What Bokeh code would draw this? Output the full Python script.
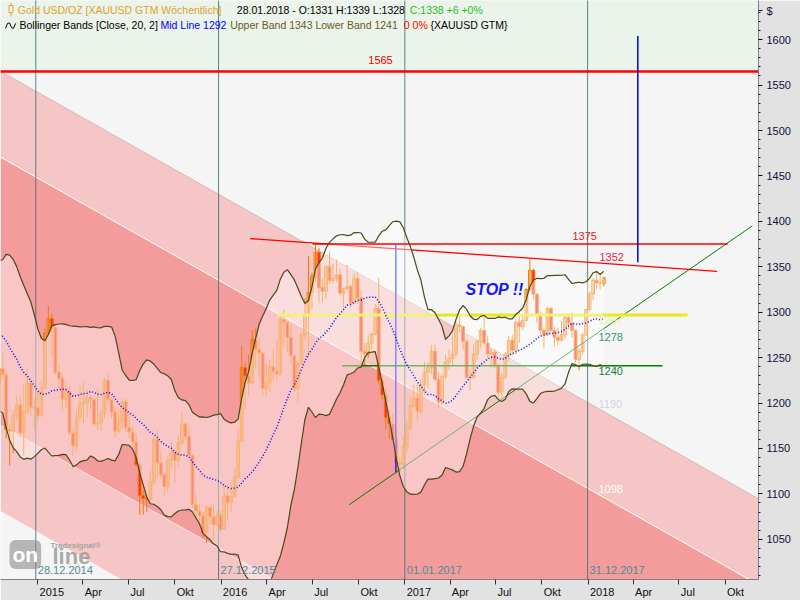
import numpy as np
import pandas as pd
from bokeh.plotting import figure
from bokeh.models import Range1d, LinearAxis, FixedTicker, Label, ColumnDataSource
from bokeh.embed import file_html
from bokeh.resources import INLINE

# ------------------------------------------------------------------ data
# weekly closes before the first drawn candle (only used for Bollinger warm-up)
warmup_closes = [1252, 1274, 1316, 1316, 1320, 1337, 1310, 1303, 1294, 1310,
                 1305, 1280, 1287, 1268, 1231, 1216, 1218, 1192]

# weekly candles, weeks starting on Sunday 05.10.2014 ... 28.01.2018
first_week = "2014-10-05"
opens = [
    1192, 1222, 1238, 1231, 1171, 1169, 1186, 1198, 1167, 1191, 1222, 1195, 1195,
    1186, 1216, 1277, 1293, 1283, 1234, 1227, 1204, 1213, 1167, 1153, 1184, 1199,
    1201, 1206, 1204, 1177, 1178, 1189, 1225, 1204, 1190, 1169, 1180, 1201, 1173,
    1168, 1157, 1132, 1098, 1095, 1094, 1113, 1160, 1134, 1121, 1108, 1137, 1146,
    1137, 1156, 1177, 1163, 1142, 1088, 1081, 1076, 1057, 1085, 1075, 1066, 1076,
    1061, 1098, 1090, 1097, 1118, 1158, 1239, 1230, 1222, 1270, 1259, 1255, 1216,
    1222, 1240, 1235, 1232, 1292, 1289, 1272, 1252, 1216, 1243, 1275, 1298, 1322,
    1339, 1366, 1327, 1323, 1350, 1335, 1337, 1341, 1321, 1326, 1328, 1310, 1337,
    1316, 1257, 1254, 1266, 1276, 1304, 1225, 1209, 1184, 1177, 1160, 1134, 1133,
    1152, 1173, 1197, 1205, 1191, 1220, 1234, 1239, 1257, 1226, 1201, 1229, 1245,
    1249, 1254, 1286, 1284, 1268, 1228, 1228, 1254, 1268, 1280, 1266, 1254, 1256,
    1242, 1212, 1228, 1254, 1269, 1258, 1289, 1284, 1291, 1325, 1346, 1320, 1297,
    1280, 1275, 1304, 1280, 1272, 1269, 1275, 1294, 1288, 1280, 1248, 1257, 1275,
    1303, 1320, 1335, 1332, 1331]
highs = [
    1227, 1249, 1255, 1234, 1177, 1192, 1208, 1207, 1221, 1238, 1225, 1205, 1212,
    1224, 1282, 1307, 1298, 1287, 1243, 1232, 1223, 1219, 1172, 1191, 1219, 1224,
    1215, 1209, 1205, 1215, 1194, 1227, 1232, 1206, 1196, 1193, 1205, 1204, 1188,
    1174, 1166, 1135, 1104, 1099, 1126, 1162, 1170, 1147, 1124, 1141, 1157, 1148,
    1164, 1191, 1178, 1176, 1143, 1099, 1088, 1080, 1088, 1088, 1088, 1081, 1082,
    1112, 1110, 1112, 1127, 1172, 1263, 1245, 1253, 1280, 1282, 1272, 1256, 1243,
    1248, 1259, 1271, 1297, 1303, 1289, 1287, 1253, 1245, 1278, 1315, 1362, 1343,
    1375, 1371, 1337, 1352, 1367, 1353, 1358, 1348, 1327, 1352, 1330, 1343, 1344,
    1324, 1266, 1275, 1277, 1309, 1338, 1232, 1217, 1193, 1188, 1172, 1140, 1163,
    1182, 1207, 1220, 1220, 1226, 1245, 1245, 1264, 1264, 1234, 1231, 1253, 1259,
    1274, 1290, 1296, 1285, 1270, 1237, 1264, 1270, 1283, 1296, 1274, 1260, 1259,
    1243, 1233, 1256, 1274, 1275, 1291, 1300, 1298, 1326, 1358, 1348, 1321, 1301,
    1282, 1306, 1306, 1284, 1283, 1290, 1297, 1297, 1300, 1280, 1260, 1277, 1303,
    1323, 1338, 1344, 1342, 1339]
lows = [
    1183, 1221, 1226, 1161, 1131, 1145, 1180, 1163, 1142, 1188, 1186, 1170, 1178,
    1185, 1215, 1276, 1250, 1231, 1216, 1193, 1195, 1164, 1142, 1147, 1180, 1178,
    1185, 1192, 1175, 1170, 1170, 1183, 1200, 1183, 1162, 1167, 1172, 1168, 1161,
    1147, 1130, 1077, 1077, 1080, 1090, 1110, 1118, 1117, 1098, 1103, 1127, 1112,
    1130, 1154, 1159, 1140, 1084, 1075, 1065, 1052, 1046, 1066, 1050, 1064, 1058,
    1061, 1072, 1080, 1097, 1118, 1157, 1193, 1207, 1220, 1238, 1228, 1208, 1207,
    1212, 1225, 1226, 1230, 1263, 1256, 1244, 1212, 1200, 1242, 1270, 1250, 1303,
    1333, 1310, 1311, 1315, 1331, 1332, 1333, 1318, 1303, 1324, 1306, 1308, 1309,
    1242, 1241, 1250, 1259, 1275, 1220, 1203, 1171, 1161, 1159, 1122, 1124, 1127,
    1146, 1171, 1195, 1180, 1188, 1209, 1216, 1232, 1224, 1195, 1198, 1226, 1237,
    1241, 1251, 1278, 1259, 1227, 1214, 1227, 1247, 1260, 1265, 1249, 1240, 1238,
    1206, 1204, 1227, 1246, 1252, 1254, 1266, 1280, 1290, 1323, 1314, 1289, 1275,
    1260, 1274, 1278, 1262, 1264, 1268, 1270, 1281, 1272, 1245, 1236, 1253, 1274,
    1301, 1313, 1326, 1325, 1328]
closes = [
    1222, 1238, 1231, 1171, 1169, 1186, 1198, 1167, 1191, 1222, 1195, 1195, 1186,
    1216, 1277, 1293, 1283, 1234, 1227, 1204, 1213, 1167, 1153, 1184, 1199, 1201,
    1206, 1204, 1177, 1178, 1189, 1225, 1204, 1190, 1169, 1180, 1201, 1173, 1168,
    1157, 1132, 1098, 1095, 1094, 1113, 1160, 1134, 1121, 1108, 1137, 1146, 1137,
    1156, 1177, 1163, 1142, 1088, 1081, 1076, 1057, 1085, 1075, 1066, 1076, 1061,
    1098, 1090, 1097, 1118, 1158, 1239, 1230, 1222, 1270, 1259, 1255, 1216, 1222,
    1240, 1235, 1232, 1292, 1289, 1272, 1252, 1216, 1243, 1275, 1298, 1322, 1339,
    1366, 1327, 1323, 1350, 1335, 1337, 1341, 1321, 1326, 1328, 1310, 1337, 1316,
    1257, 1254, 1266, 1276, 1304, 1225, 1209, 1184, 1177, 1160, 1134, 1133, 1152,
    1173, 1197, 1205, 1191, 1220, 1234, 1239, 1257, 1226, 1201, 1229, 1245, 1249,
    1254, 1286, 1284, 1268, 1228, 1228, 1254, 1268, 1280, 1266, 1254, 1256, 1242,
    1212, 1228, 1254, 1269, 1258, 1289, 1284, 1291, 1325, 1346, 1320, 1297, 1280,
    1275, 1304, 1280, 1272, 1269, 1275, 1294, 1288, 1280, 1248, 1257, 1275, 1303,
    1320, 1335, 1332, 1332, 1338]

bb_period = 20
bb_width = 2

# x axis
x_tick_dates = ["2015-01-01", "2015-04-01", "2015-07-01", "2015-10-01",
                "2016-01-01", "2016-04-01", "2016-07-01", "2016-10-01",
                "2017-01-01", "2017-04-01", "2017-07-01", "2017-10-01",
                "2018-01-01", "2018-04-01", "2018-07-01", "2018-10-01"]
x_tick_labels = ["2015", "Apr", "Jul", "Okt", "2016", "Apr", "Jul", "Okt",
                 "2017", "Apr", "Jul", "Okt", "2018", "Apr", "Jul", "Okt"]
# y axis
y_ticks = [1050, 1100, 1150, 1200, 1250, 1300, 1350, 1400, 1450, 1500, 1550, 1600]
y_minor_ticks = [v for v in range(1010, 1640, 10)]
y_unit_pos = 1632
y_unit_label = "$"

# year separators
year_line_dates = ["2014-12-28", "2015-12-27", "2017-01-01", "2017-12-31"]
year_line_labels = ["28.12.2014", "27.12.2015", "01.01.2017", "31.12.2017"]

# regression channel (start / end of the four channel lines)
channel_dates = ["2014-10-19", "2018-12-09"]
channel_l1 = [1565.1, 1093.7]
channel_l2 = [1470.6, 999.2]
channel_l3 = [1175.5, 704.1]
channel_l4 = [1081.0, 609.6]

# drawn levels / trend lines
top_level = 1565
res_1375_dates = ["2016-07-01", "2018-10-06"]
res_1375 = 1375
down_dates = ["2016-02-28", "2018-09-15"]
down_prices = [1381, 1345]
sup_1297_dates = ["2016-04-22", "2018-07-18"]
sup_1297 = 1297
sup_1241_dates = ["2016-08-29", "2018-05-29"]
sup_1241 = 1241
up_dates = ["2016-09-12", "2018-11-24"]
up_prices = [1088, 1395]
low_marker_date = "2016-12-14"
low_marker_prices = [1124, 1375]
target_date = "2018-04-10"
target_prices = [1355, 1604]

# ------------------------------------------------------------------ helpers
DAY = 86400000.0


def ms(d):
    return pd.Timestamp(d).value / 1e6


T2015 = ms("2015-01-01")
PX_PER_DAY = 0.5021      # reference horizontal scale
X2015_PX = 37.3          # page x of 01.01.2015
PX_PER_USD = 0.9115      # reference vertical scale
Y1600_PX = 39.3          # page y of 1600


def X(px):
    return T2015 + (px - X2015_PX) / PX_PER_DAY * DAY


def Y(py):
    return 1600 - (py - Y1600_PX) / PX_PER_USD


x_start, x_end = X(0), X(758)
y_top, y_bot = Y(0), Y(581)

FONT = "Liberation Sans"

p = figure(width=800, height=600, x_range=Range1d(x_start, x_end),
           y_range=Range1d(y_bot, y_top), output_backend="svg",
           toolbar_location=None, x_axis_type=None, y_axis_type=None,
           min_border_left=0, min_border_top=0, min_border_right=42,
           min_border_bottom=19, background_fill_color="#f5f5f5",
           border_fill_color="#e2e2e2", outline_line_color=None)

# green zone above the top level
p.varea(x=[x_start, x_end], y1=[top_level, top_level], y2=[y_top + 20, y_top + 20],
        fill_color="#eaf4ea")

# regression channel
cx = [ms(d) for d in channel_dates]
p.varea(x=cx, y1=channel_l2, y2=channel_l1, fill_color="#f6c5c5")
p.varea(x=cx, y1=channel_l3, y2=channel_l2, fill_color="#f49c9c")
p.varea(x=cx, y1=channel_l4, y2=channel_l3, fill_color="#f6c5c5")
p.line(cx, channel_l1, line_color="#d4b8b8", line_width=1)
p.line(cx, channel_l2, line_color="white", line_width=1)
p.line(cx, channel_l3, line_color="white", line_width=1, line_alpha=0.5)

# year separators
yl = [ms(d) for d in year_line_dates]
p.segment(x0=yl, y0=[y_bot - 10] * 4, x1=yl, y1=[y_top + 10] * 4,
          line_color="#3e6e6e", line_width=1, line_alpha=0.85)

# candles
weeks = pd.date_range(first_week, periods=len(closes), freq="7D")
cxs = np.array([ms(d) for d in weeks]) + 4 * DAY
o = np.array(opens, float)
h = np.array(highs, float)
lo = np.array(lows, float)
c = np.array(closes, float)
src = ColumnDataSource(dict(x=cxs, h=h, l=lo))
p.segment(x0="x", y0="l", x1="x", y1="h", source=src, line_color="#f07c00", line_width=1)
upm = c >= o
up_src = ColumnDataSource(dict(x=cxs[upm], top=np.maximum(o, c)[upm], bot=np.minimum(o, c)[upm]))
dn_src = ColumnDataSource(dict(x=cxs[~upm], top=np.maximum(o, c)[~upm], bot=np.minimum(o, c)[~upm]))
p.vbar(x="x", top="top", bottom="bot", width=5.5 * DAY, source=up_src,
       fill_color=None, line_color="#f07c00", line_width=1)
p.vbar(x="x", top="top", bottom="bot", width=5.5 * DAY, source=dn_src,
       fill_color="#ff2a2a", line_color="#f07c00", line_width=1)

# trend lines under the band shading
p.line([ms(d) for d in down_dates], down_prices, line_color="#ff0000", line_width=1.3)
p.line([ms(d) for d in up_dates], up_prices, line_color="#008000", line_width=1)
p.line([ms(d) for d in sup_1297_dates], [sup_1297, sup_1297], line_color="#e8e81c", line_width=3)
p.line([ms(d) for d in sup_1241_dates], [sup_1241, sup_1241], line_color="#008000", line_width=1.5)
p.line([ms(low_marker_date)] * 2, low_marker_prices, line_color="#2a2aff", line_width=1.5)

# Bollinger bands
all_c = pd.Series(list(warmup_closes) + list(closes), dtype=float)
mid = all_c.rolling(bb_period).mean()
sd = all_c.rolling(bb_period).std(ddof=0)
n_w = len(warmup_closes)
mid = mid.values[n_w:]
upper = mid + bb_width * sd.values[n_w:]
lower = mid - bb_width * sd.values[n_w:]
ok = ~np.isnan(mid)
p.varea(x=cxs[ok], y1=lower[ok], y2=upper[ok], fill_color="white", fill_alpha=0.42)
p.line(cxs[ok], upper[ok], line_color="#4b481c", line_width=1.2)
p.line(cxs[ok], lower[ok], line_color="#4b481c", line_width=1.2)
p.line(cxs[ok], mid[ok], line_color="#0000ff", line_width=1.5, line_dash="1 2")

# lines drawn on top
p.line([x_start, x_end], [top_level, top_level], line_color="#ff0000", line_width=2.5)
p.line([ms(d) for d in res_1375_dates], [res_1375, res_1375], line_color="#ff0000", line_width=1.5)
p.line([ms(target_date)] * 2, target_prices, line_color="#0000e0", line_width=1.5)

# price axis (right)
yaxis = LinearAxis(ticker=FixedTicker(ticks=y_ticks + [y_unit_pos], minor_ticks=y_minor_ticks),
                   major_label_overrides={y_unit_pos: y_unit_label},
                   axis_line_color="#808080", major_tick_line_color="#101030",
                   minor_tick_line_color="#101030", major_tick_out=4, major_tick_in=0,
                   minor_tick_out=2, minor_tick_in=0, major_label_standoff=4,
                   major_label_text_font=FONT, major_label_text_font_size="11px",
                   major_label_text_color="#10103a")
p.add_layout(yaxis, "right")

# time axis: the visible tick marks sit on the dates (drawn as minor ticks),
# each label is centred just right of its tick mark, as in the reference
x_ticks = [ms(d) for d in x_tick_dates]
CHAR_W = {"A": 0.667, "p": 0.556, "r": 0.333, "J": 0.5, "u": 0.556, "l": 0.222,
          "O": 0.778, "k": 0.5, "t": 0.278}


def text_w(s, size=11):
    return sum(CHAR_W.get(ch, 0.556) for ch in s) * size


label_pos = [t + (1.8 + text_w(s) / 2) / PX_PER_DAY * DAY for t, s in zip(x_ticks, x_tick_labels)]
xaxis = LinearAxis(ticker=FixedTicker(ticks=label_pos, minor_ticks=x_ticks),
                   major_label_overrides={t: s for t, s in zip(label_pos, x_tick_labels)},
                   axis_line_color="#808080", major_tick_line_color=None,
                   major_tick_out=5, major_tick_in=0, major_label_standoff=1,
                   minor_tick_line_color="#303030", minor_tick_out=5, minor_tick_in=0,
                   major_label_text_font=FONT, major_label_text_font_size="11px",
                   major_label_text_color="#101010")
p.add_layout(xaxis, "below")


def lab(px, py, text, color, size="11px", style="normal", align="left", **kw):
    p.add_layout(Label(x=X(px), y=Y(py), text=text, text_color=color, text_font=FONT,
                       text_font_size=size, text_font_style=style, text_align=align,
                       text_baseline="middle", **kw))


# header
HS = "10.5px"
lab(17.3, 10, "Gold USD/OZ [XAUUSD GTM  Wöchentlich]", "#e0a030", size=HS)
lab(236.3, 10, "28.01.2018 - O:1331 H:1339 L:1328", "#000000", size=HS)
lab(409.3, 10, "C:1338 +6 +0%", "#1fbf1f", size=HS)
lab(19, 25, "Bollinger Bands [Close, 20, 2]", "#000000", size=HS)
lab(160, 25, "Mid Line 1292", "#0000ff", size=HS)
lab(229.7, 25, "Upper Band 1343 Lower Band 1241", "#6b5a1e", size=HS)
lab(403.3, 25, "0 0%", "#ff0000", size=HS)
lab(430, 25, "{XAUUSD GTM}", "#000000", size=HS)

# header icons
p.segment(x0=[X(10.5)], y0=[Y(2)], x1=[X(10.5)], y1=[Y(16)], line_color="#e0a030", line_width=1)
p.quad(left=[X(8.5)], right=[X(12.5)], top=[Y(5)], bottom=[Y(12)],
       fill_color="#fff8e8", line_color="#e0a030", line_width=1)
p.line([X(5), X(7), X(9), X(11), X(13), X(15)], [Y(28), Y(23), Y(22.5), Y(27), Y(28), Y(23)],
       line_color="#000000", line_width=1)

# level labels
lab(380, 60, "1565", "#e00000", align="center")
lab(572, 236.5, "1375", "#e01818")
lab(599, 257.5, "1352", "#e8204a")
lab(598, 321, "1297", "#efef90")
lab(598, 338, "1278", "#2e9a6e")
lab(598, 372, "1240", "#1a7a3a")
lab(598, 405, "1190", "#d4d4e2")
lab(598, 490, "1098", "#ffffff")
lab(465, 290, "STOP !!", "#1414ff", size="16px", style="bold italic")

for d, s in zip(year_line_dates, year_line_labels):
    p.add_layout(Label(x=ms(d) + 4 * DAY, y=Y(571), text=s, text_color="#4d8c99",
                       text_font=FONT, text_font_size="11px", text_baseline="middle"))

# watermark
p.add_layout(Label(x=X(9), y=Y(556), text="on", text_color="#ffffff", text_font=FONT,
                   text_font_size="21px", text_font_style="bold", text_baseline="middle",
                   background_fill_color="#8c8c8c", background_fill_alpha=0.6,
                   padding=3, border_radius=6))
p.add_layout(Label(x=X(52), y=Y(558), text="line", text_color="#9c9c9c", text_font=FONT,
                   text_font_size="22px", text_font_style="bold", text_baseline="middle",
                   text_alpha=0.85))
p.add_layout(Label(x=X(50), y=Y(547), text="Tradesignal®", text_color="#a4a4a4",
                   text_font=FONT, text_font_size="8px", text_font_style="bold",
                   text_baseline="middle"))

open("out.html", "w").write(file_html(p, INLINE))
